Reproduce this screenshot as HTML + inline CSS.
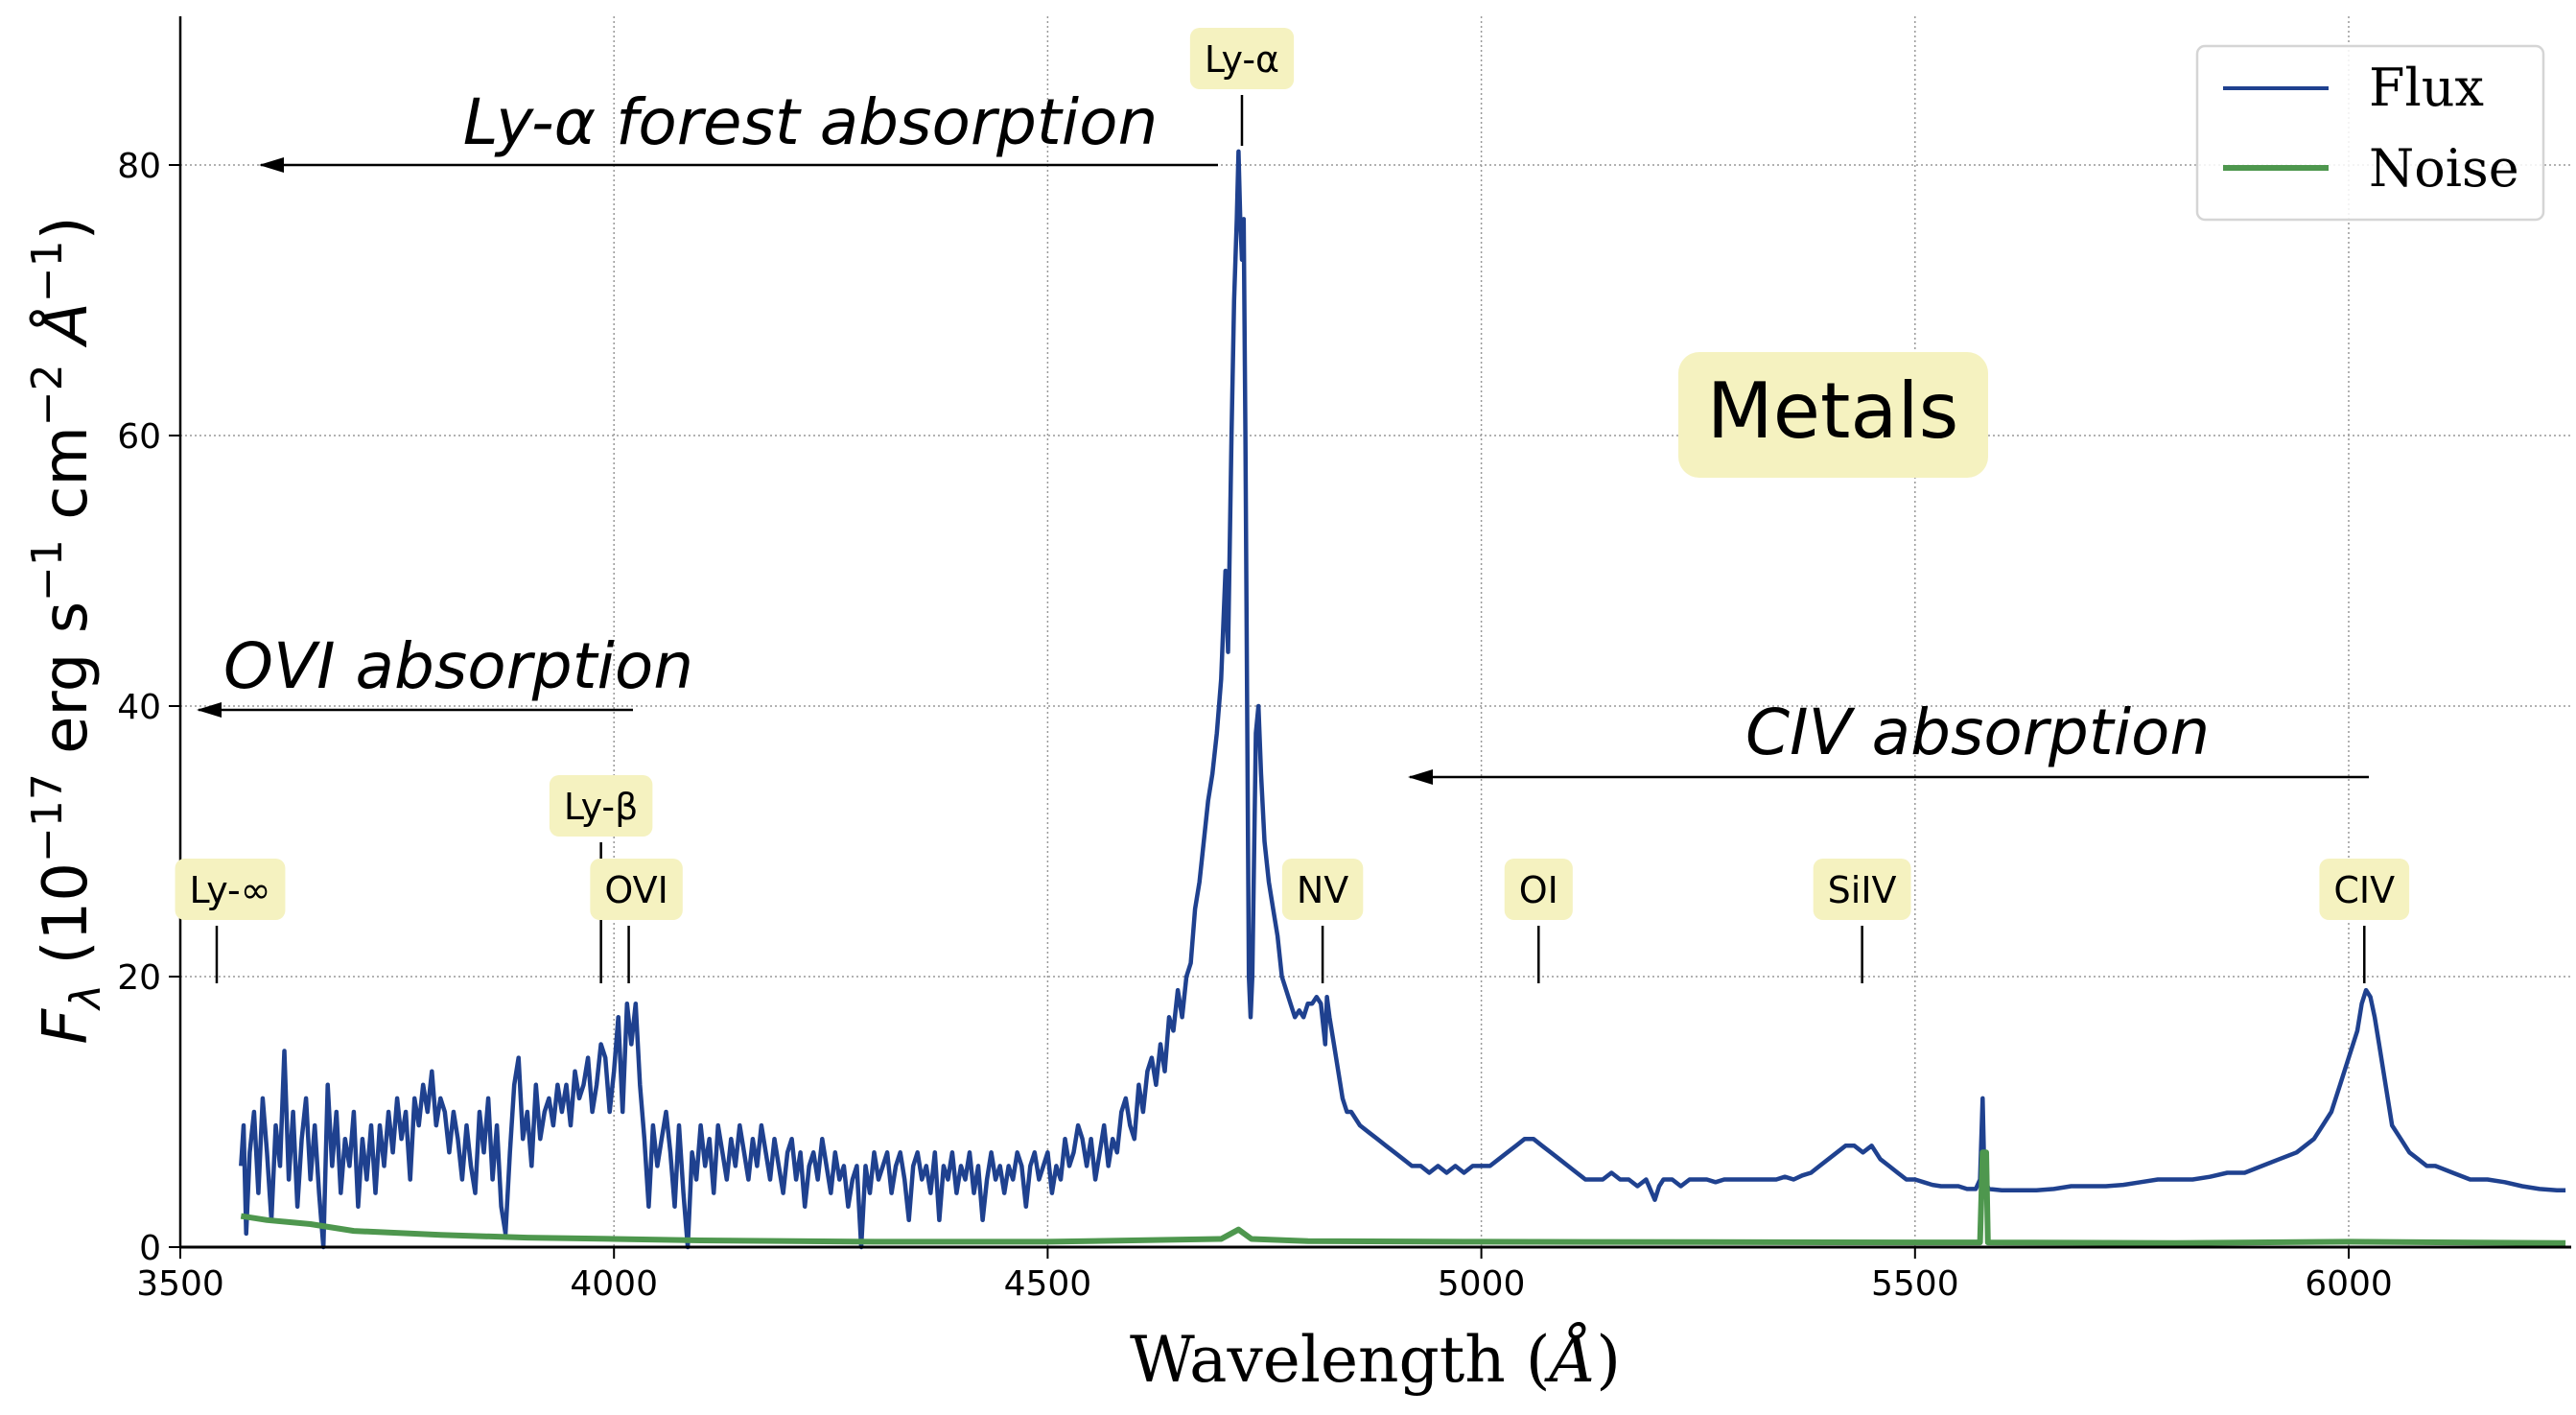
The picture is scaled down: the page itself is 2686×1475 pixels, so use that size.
<!DOCTYPE html>
<html><head><meta charset="utf-8"><style>
html,body{margin:0;padding:0;background:#fff}
svg{display:block}
</style></head><body>
<svg id="chart" xmlns="http://www.w3.org/2000/svg" width="2686" height="1475" viewBox="0 0 2686 1475" font-family="DejaVu Sans, Liberation Sans, sans-serif">
<g id="grid"></g>
<g id="series"></g>
<g id="axes"></g>
<g id="annot"></g>
</svg>
<script>
const fluxWave=[3570,3573,3576,3580,3585,3590,3595,3600,3605,3610,3615,3620,3625,3630,3635,3640,3645,3650,3655,3660,3665,3670,3675,3680,3685,3690,3695,3700,3705,3710,3715,3720,3725,3730,3735,3740,3745,3750,3755,3760,3765,3770,3775,3780,3785,3790,3795,3800,3805,3810,3815,3820,3825,3830,3835,3840,3845,3850,3855,3860,3865,3870,3875,3880,3885,3890,3895,3900,3905,3910,3915,3920,3925,3930,3935,3940,3945,3950,3955,3960,3965,3970,3975,3980,3985,3990,3995,4000,4005,4010,4015,4020,4025,4030,4035,4040,4045,4050,4055,4060,4065,4070,4075,4080,4085,4090,4095,4100,4105,4110,4115,4120,4125,4130,4135,4140,4145,4150,4155,4160,4165,4170,4175,4180,4185,4190,4195,4200,4205,4210,4215,4220,4225,4230,4235,4240,4245,4250,4255,4260,4265,4270,4275,4280,4285,4290,4295,4300,4305,4310,4315,4320,4325,4330,4335,4340,4345,4350,4355,4360,4365,4370,4375,4380,4385,4390,4395,4400,4405,4410,4415,4420,4425,4430,4435,4440,4445,4450,4455,4460,4465,4470,4475,4480,4485,4490,4495,4500,4505,4510,4515,4520,4525,4530,4535,4540,4545,4550,4555,4560,4565,4570,4575,4580,4585,4590,4595,4600,4605,4610,4615,4620,4625,4630,4635,4640,4645,4650,4655,4660,4665,4670,4675,4680,4685,4690,4695,4700,4705,4708,4712,4715,4718,4720,4722,4724,4726,4728,4730,4732,4734,4736,4740,4743,4746,4750,4755,4760,4765,4770,4775,4780,4785,4790,4795,4800,4805,4810,4815,4820,4822,4825,4830,4835,4840,4845,4850,4860,4870,4880,4890,4900,4910,4920,4930,4940,4950,4960,4970,4980,4990,5000,5010,5020,5030,5040,5050,5060,5070,5080,5090,5100,5110,5120,5130,5140,5150,5160,5170,5180,5190,5200,5205,5210,5220,5230,5240,5250,5260,5270,5280,5290,5300,5310,5320,5330,5340,5350,5360,5370,5380,5390,5400,5410,5420,5430,5440,5450,5460,5470,5480,5490,5500,5510,5520,5530,5540,5550,5560,5570,5575,5578,5580,5585,5600,5620,5640,5660,5680,5700,5720,5740,5760,5780,5800,5820,5840,5860,5880,5900,5920,5940,5960,5970,5980,5990,6000,6010,6015,6020,6025,6030,6035,6040,6045,6050,6060,6070,6080,6090,6100,6120,6140,6160,6180,6200,6220,6240,6250];
const fluxVals=[6,9,1,7,10,4,11,7,2,9,6,14.5,5,10,3,8,11,5,9,4,0,12,6,10,4,8,6,10,3,8,5,9,4,9,6,10,7,11,8,10,5,11,9,12,10,13,9,11,10,7,10,8,5,9,6,4,10,7,11,5,9,3,1,7,12,14,8,10,6,12,8,10,11,9,12,10,12,9,13,11,12,14,10,12,15,14,10,13,17,10,18,15,18,12,8,3,9,6,8,10,7,3,9,4,0,7,5,9,6,8,4,9,7,5,8,6,9,7,5,8,6,9,7,5,8,6,4,7,8,5,7,3,6,7,5,8,6,4,7,5,6,3,5,6,0,6,4,7,5,6,7,4,6,7,5,2,6,7,5,6,4,7,2,6,5,7,4,6,5,7,4,6,2,5,7,5,6,4,6,5,7,6,3,6,7,5,6,7,4,6,5,8,6,7,9,8,6,8,5,7,9,6,8,7,10,11,9,8,12,10,13,14,12,15,13,17,16,19,17,20,21,25,27,30,33,35,38,42,50,44,60,70,76,81,76,73,76,60,40,20,17,20,38,40,35,30,27,25,23,20,19,18,17,17.5,17,18,18,18.5,18,15,18.5,17,15,13,11,10,10,9,8.5,8,7.5,7,6.5,6,6,5.5,6,5.5,6,5.5,6,6,6,6.5,7,7.5,8,8,7.5,7,6.5,6,5.5,5,5,5,5.5,5,5,4.5,5,3.5,4.5,5,5,4.5,5,5,5,4.8,5,5,5,5,5,5,5,5.2,5,5.3,5.5,6,6.5,7,7.5,7.5,7,7.5,6.5,6,5.5,5,5,4.8,4.6,4.5,4.5,4.5,4.3,4.3,5,11,5,4.3,4.2,4.2,4.2,4.3,4.5,4.5,4.5,4.6,4.8,5,5,5,5.2,5.5,5.5,6,6.5,7,8,9,10,12,14,16,18,19,18.5,17,15,13,11,9,8,7,6.5,6,6,5.5,5,5,4.8,4.5,4.3,4.2,4.2];
const noiseWave=[3570,3600,3650,3700,3800,3900,4000,4100,4300,4500,4700,4720,4735,4800,5000,5500,5575,5578,5582,5584,5800,6000,6250];
const noiseVals=[2.3,2.0,1.7,1.2,0.9,0.7,0.6,0.5,0.4,0.4,0.6,1.3,0.6,0.45,0.4,0.35,0.35,7,7,0.35,0.3,0.4,0.3];
const xTicks=[3500,4000,4500,5000,5500,6000];
const yTicks=[0,20,40,60,80];
const lineNames=["Ly-∞","Ly-β","OVI","Ly-α","NV","OI","SiIV","CIV"];
const lineWaves=[3542,3985,4017,4724,4817,5066,5439,6018];

const NS="http://www.w3.org/2000/svg";
const L=188,R=2681,T=17,B=1300;
const X=w=>L+(w-3500)*0.9044;
const Y=v=>B-v*14.1;
function mk(tag,attrs,parent,text){const e=document.createElementNS(NS,tag);for(const k in attrs)e.setAttribute(k,attrs[k]);if(text!==undefined)e.textContent=text;parent.appendChild(e);return e;}
const grid=document.getElementById('grid'),series=document.getElementById('series'),axes=document.getElementById('axes'),annot=document.getElementById('annot');

xTicks.forEach(t=>{const g=mk('line',{x1:X(t),x2:X(t),y1:T,y2:B,stroke:'#999','stroke-width':1.5,'stroke-dasharray':'2,3'},grid);

});
yTicks.forEach(t=>{const g=mk('line',{x1:L,x2:R,y1:Y(t),y2:Y(t),stroke:'#999','stroke-width':1.5,'stroke-dasharray':'2,3'},grid);

});

function path(ws,vs){return ws.map((w,i)=>(i?'L':'M')+X(w).toFixed(1)+','+Y(vs[i]).toFixed(1)).join('');}
const fp=mk('path',{d:path(fluxWave,fluxVals),fill:'none',stroke:'#1f418f','stroke-width':4.5,'stroke-linejoin':'round'},series);


const np=mk('path',{d:path(noiseWave,noiseVals),fill:'none',stroke:'#4e974e','stroke-width':6,'stroke-linejoin':'round'},series);



const sp1=mk('line',{x1:L,x2:L,y1:T,y2:B+1,stroke:'#000','stroke-width':2.5},axes);


const sp2=mk('line',{x1:L-1,x2:R,y1:B,y2:B,stroke:'#000','stroke-width':3},axes);


xTicks.forEach(t=>{const tk=mk('line',{x1:X(t),x2:X(t),y1:B,y2:B+12,stroke:'#000','stroke-width':2},axes);


const lb=mk('text',{x:X(t),y:B+50,'font-size':36,'text-anchor':'middle'},axes,String(t));

});
yTicks.forEach(t=>{const tk=mk('line',{x1:L-12,x2:L,y1:Y(t),y2:Y(t),stroke:'#000','stroke-width':2},axes);


const lb=mk('text',{x:L-20,y:Y(t)+13,'font-size':36,'text-anchor':'end'},axes,String(t));

});

// emission line labels
const boxY=[895,808,895,29,895,895,895,895];
const lineBot=[1025,1025,1025,152,1025,1025,1025,1025];
lineNames.forEach((n,i)=>{const x=X(lineWaves[i]);
let cx=x; if(i===2)cx=x+8; if(i===0)cx=x+14;
const t=mk('text',{x:cx,y:boxY[i]+46,'font-size':38,'text-anchor':'middle'},annot,n);


let tw=n.length*22; try{tw=t.getComputedTextLength();}catch(e){}
tw+=30;
const r=mk('rect',{x:cx-tw/2,y:boxY[i],width:tw,height:64,rx:10,fill:'#f5f2c0'},annot);
annot.insertBefore(r,t);


const m=mk('line',{x1:x,x2:x,y1:boxY[i]+70,y2:lineBot[i],stroke:'#000','stroke-width':2.5},annot);

});
</script>
<svg style="position:absolute;left:0;top:0" width="2686" height="1475" font-family="DejaVu Sans, Liberation Sans, sans-serif">
<g><line x1="1270" y1="172" x2="272" y2="172" stroke="#000" stroke-width="2.5"/><path d="M270,172 l26,-8 v16 z" fill="#000"/></g>
<text x="845" y="150" font-size="66" font-style="italic" text-anchor="middle">Ly-α forest absorption</text>
<g><line x1="660" y1="740" x2="207" y2="740" stroke="#000" stroke-width="2.5"/><path d="M205,740 l26,-8 v16 z" fill="#000"/></g>
<text x="233" y="717" font-size="66" font-style="italic">OVI absorption</text>
<g><line x1="2470" y1="810" x2="1470" y2="810" stroke="#000" stroke-width="2.5"/><path d="M1468,810 l26,-8 v16 z" fill="#000"/></g>
<text x="1820" y="786" font-size="66" font-style="italic">CIV absorption</text>
<rect x="1750" y="367" width="323" height="131" rx="22" fill="#f5f2c0"/>
<text x="1911" y="456" font-size="80" text-anchor="middle">Metals</text>
<g>
<rect x="2291" y="48" width="361" height="181" rx="8" fill="#fff" fill-opacity="0.85" stroke="#d5d5d5" stroke-width="2.5"/>
<line x1="2318" y1="92" x2="2428" y2="92" stroke="#1f418f" stroke-width="4"/>
<text x="2470" y="110" font-size="54" font-family="DejaVu Serif, Liberation Serif, serif">Flux</text>
<line x1="2318" y1="175" x2="2428" y2="175" stroke="#4e974e" stroke-width="6"/>
<text x="2470" y="194" font-size="54" font-family="DejaVu Serif, Liberation Serif, serif">Noise</text>
</g>
<text x="1434" y="1440" font-size="66" text-anchor="middle" font-family="DejaVu Serif, Liberation Serif, serif">Wavelength (<tspan font-style="italic">Å</tspan>)</text>
<text transform="translate(90,657) rotate(-90)" font-size="64" text-anchor="middle"><tspan font-style="italic">F</tspan><tspan font-size="44" font-style="italic" dy="14">λ</tspan><tspan dy="-14"> (10</tspan><tspan font-size="44" dy="-26">−17</tspan><tspan dy="26"> erg s</tspan><tspan font-size="44" dy="-26">−1</tspan><tspan dy="26"> cm</tspan><tspan font-size="44" dy="-26">−2</tspan><tspan dy="26" font-style="italic"> Å</tspan><tspan font-size="44" dy="-26">−1</tspan><tspan dy="26">)</tspan></text>
</svg>
</body></html>
